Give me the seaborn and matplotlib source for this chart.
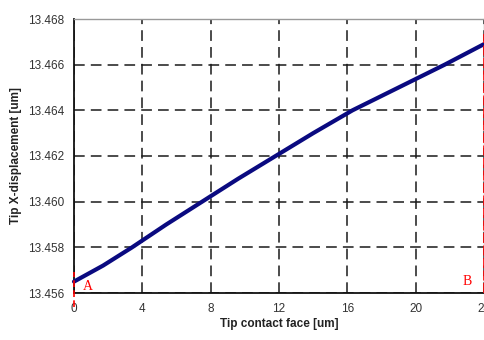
import matplotlib
matplotlib.use("Agg")
import matplotlib.pyplot as plt
import seaborn as sns
import pandas as pd

# Tip displacement along the contact face
face_um = [0.0, 1.7, 3.4, 5.4, 7.5, 9.6, 11.8, 14.0, 16.3, 19.0, 21.7, 24.0]
tip_x_um = [13.4565, 13.4572, 13.4580, 13.4590, 13.4600, 13.4610,
            13.4620, 13.4630, 13.4640, 13.4650, 13.4660, 13.4669]

x_ticks = [0, 4, 8, 12, 16, 20, 24]
y_ticks = [13.456, 13.458, 13.460, 13.462, 13.464, 13.466, 13.468]

df = pd.DataFrame({"face": face_um, "tip": tip_x_um})

sns.set_style("white")
plt.rcParams["font.family"] = ["Liberation Sans", "DejaVu Sans"]

fig = plt.figure(figsize=(4.85, 3.4), dpi=100)
ax = fig.add_axes([74 / 485, 47 / 340, 410 / 485, 274 / 340])

sns.lineplot(data=df, x="face", y="tip", ax=ax, color="#0a0a80",
             linewidth=3.0, zorder=5, clip_on=False)

ax.set_xlim(0, 24)
ax.set_ylim(13.456, 13.468)
ax.set_xticks(x_ticks)
ax.set_yticks(y_ticks)
ax.set_xticklabels([str(v) for v in x_ticks], fontsize=8.5, color="#333333")
ax.set_yticklabels([f"{v:.3f}" for v in y_ticks], fontsize=8.5, color="#333333")

ax.grid(True, linestyle=(0, (7, 4)), color="#1a1a1a", linewidth=1.1)
ax.set_axisbelow(True)

for side in ("left", "bottom"):
    ax.spines[side].set_color("#111111")
    ax.spines[side].set_linewidth(1.3)
for side in ("top", "right"):
    ax.spines[side].set_color("#999999")
    ax.spines[side].set_linewidth(1.0)

ax.tick_params(axis="both", direction="out", length=4, width=1.1,
               color="#111111", pad=3)

ax.set_xlabel("Tip contact face [um]", fontsize=8.5, fontweight="bold",
              color="#222222", labelpad=2)
ax.set_ylabel("Tip X-displacement [um]", fontsize=8.5, fontweight="bold",
              color="#222222", labelpad=4)

# End markers A and B
ax.axvline(0, ymin=-0.05, ymax=0.075, color="red", linewidth=1.2,
           linestyle=(0, (4, 2)), clip_on=False, zorder=6)
ax.axvline(24, ymin=0.0, ymax=0.945, color="red", linewidth=1.2,
           linestyle=(0, (6, 1.5)), clip_on=False, zorder=6)
ax.text(0.5, 13.4563, "A", color="red", fontsize=10,
        family=["Liberation Serif", "DejaVu Serif"], ha="left", va="center")
ax.text(23.3, 13.4565, "B", color="red", fontsize=10,
        family=["Liberation Serif", "DejaVu Serif"], ha="right", va="center")

fig.savefig("out.png", dpi=100)
